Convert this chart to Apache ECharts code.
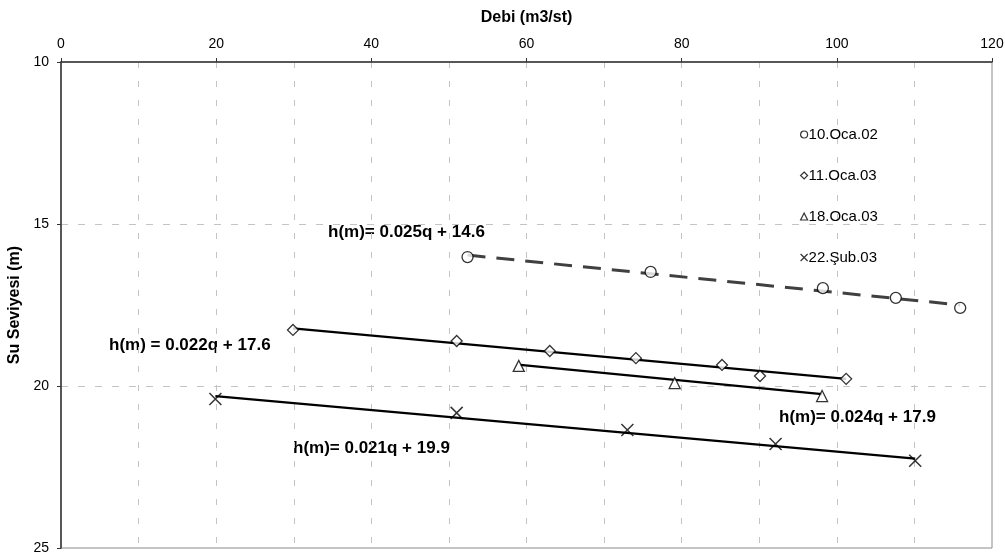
<!DOCTYPE html>
<html>
<head>
<meta charset="utf-8">
<script src="https://cdn.jsdelivr.net/npm/echarts@6/dist/echarts.min.js"></script>
<style>
  html, body { margin: 0; padding: 0; background: #fff; }
  #chart { width: 1005px; height: 555px; }
</style>
</head>
<body>
<div id="chart"></div>
<script>
// measured points, debi (q) vs su seviyesi (h)
const seriesNames = ['10.Oca.02', '11.Oca.03', '18.Oca.03', '22.Şub.03'];

const q1002 = [52.4, 76.0, 98.2, 107.6, 115.9];
const h1002 = [16.02, 16.48, 16.98, 17.28, 17.59];

const q1103 = [29.9, 51.0, 63.0, 74.1, 85.2, 90.1, 101.2];
const h1103 = [18.27, 18.61, 18.92, 19.14, 19.35, 19.69, 19.78];

const q1803 = [59.0, 79.1, 98.1];
const h1803 = [19.38, 19.91, 20.31];

const q2202 = [19.9, 51.0, 73.0, 92.1, 110.1];
const h2202 = [20.40, 20.83, 21.36, 21.79, 22.31];

// trend lines (start / end)
const trendQ1002 = [52.4, 115.9];
const trendH1002 = [15.96, 17.50];
const trendQ1103 = [29.9, 101.2];
const trendH1103 = [18.22, 19.78];
const trendQ1803 = [59.2, 98.1];
const trendH1803 = [19.35, 20.25];
const trendQ2202 = [19.9, 110.1];
const trendH2202 = [20.31, 22.24];

const equations = [
  'h(m)= 0.025q + 14.6',
  'h(m) = 0.022q + 17.6',
  'h(m)= 0.024q + 17.9',
  'h(m)= 0.021q + 19.9'
];

const xTicks = { min: 0, max: 120, step: 20 };
const yTicks = { min: 10, max: 25, step: 5 };

const FONT = '"Liberation Sans", Arial, sans-serif';
const CROSS = 'path://M0,0L10,10M10,0L0,10';

const zip = (qs, hs) => qs.map((q, i) => [q, hs[i]]);

const chart = echarts.init(document.getElementById('chart'), null, { renderer: 'canvas' });

const markerStyle = { color: '#fff', borderColor: '#000', borderWidth: 1.3 };

const trend = (qs, hs, extra) => ({
  type: 'line',
  data: zip(qs, hs),
  symbol: 'none',
  silent: true,
  z: 2,
  lineStyle: Object.assign({ color: '#000', width: 2.2 }, extra || {})
});

const scatter = (name, qs, hs, symbol, size, style) => ({
  name,
  type: 'scatter',
  data: zip(qs, hs),
  symbol,
  symbolSize: size,
  z: 3,
  itemStyle: style || markerStyle
});

const eqText = (i, left, top) => ({
  type: 'text',
  left, top,
  style: { text: equations[i], font: 'bold 17px ' + FONT, fill: '#000' }
});

const option = {
  animation: false,
  backgroundColor: '#fff',
  grid: {
    left: 61, right: 13, top: 62, bottom: 7,
    outerBoundsMode: 'none',
    containLabel: false,
    show: true, borderColor: '#8a8a8a', borderWidth: 1
  },
  xAxis: {
    type: 'value',
    position: 'top',
    min: xTicks.min, max: xTicks.max, interval: xTicks.step,
    name: 'Debi (m3/st)',
    nameLocation: 'middle',
    nameGap: 36,
    nameTextStyle: { fontFamily: FONT, fontWeight: 'bold', fontSize: 16, color: '#000' },
    axisLine: { show: true, lineStyle: { color: '#333', width: 1.5 } },
    axisTick: { show: true, length: 4, lineStyle: { color: '#333' } },
    axisLabel: { fontFamily: FONT, fontSize: 14, color: '#000', margin: 11 },
    splitLine: { show: true, lineStyle: { color: '#c4c4c4', type: [6, 13] } },
    minorTick: { show: false, splitNumber: 2 },
    minorSplitLine: { show: true, lineStyle: { color: '#c4c4c4', type: [6, 13] } }
  },
  yAxis: {
    type: 'value',
    inverse: true,
    min: yTicks.min, max: yTicks.max, interval: yTicks.step,
    name: 'Su Seviyesi (m)',
    nameLocation: 'middle',
    nameGap: 33,
    nameTextStyle: { fontFamily: FONT, fontWeight: 'bold', fontSize: 16, color: '#000' },
    axisLine: { show: true, lineStyle: { color: '#333', width: 1.5 } },
    axisTick: { show: true, length: 4, lineStyle: { color: '#333' } },
    axisLabel: { fontFamily: FONT, fontSize: 14, color: '#000', margin: 12 },
    splitLine: { show: true, lineStyle: { color: '#c4c4c4', type: [7, 10] } }
  },
  legend: {
    data: [
      { name: seriesNames[0], icon: 'circle' },
      { name: seriesNames[1], icon: 'diamond' },
      { name: seriesNames[2], icon: 'triangle' },
      { name: seriesNames[3], icon: CROSS }
    ],
    orient: 'vertical',
    left: 800,
    top: 126,
    padding: 0,
    itemWidth: 7,
    itemHeight: 7,
    itemGap: 24,
    textStyle: { fontFamily: FONT, fontSize: 15, color: '#000', lineHeight: 17, padding: [0, 0, 0, -4] },
    itemStyle: { color: '#fff', borderColor: '#000', borderWidth: 1.2 }
  },
  series: [
    trend(trendQ1002, trendH1002, { color: '#404040', width: 3, type: [18, 11] }),
    trend(trendQ1103, trendH1103),
    trend(trendQ1803, trendH1803),
    trend(trendQ2202, trendH2202),
    scatter(seriesNames[0], q1002, h1002, 'circle', 11),
    scatter(seriesNames[1], q1103, h1103, 'diamond', 11),
    scatter(seriesNames[2], q1803, h1803, 'triangle', 11),
    scatter(seriesNames[3], q2202, h2202, CROSS, 12,
      { color: 'transparent', borderColor: '#000', borderWidth: 1.5 })
  ],
  graphic: [
    eqText(0, 328, 224),
    eqText(1, 109, 337),
    eqText(2, 779, 409),
    eqText(3, 293, 440)
  ]
};

chart.setOption(option);
</script>
</body>
</html>
